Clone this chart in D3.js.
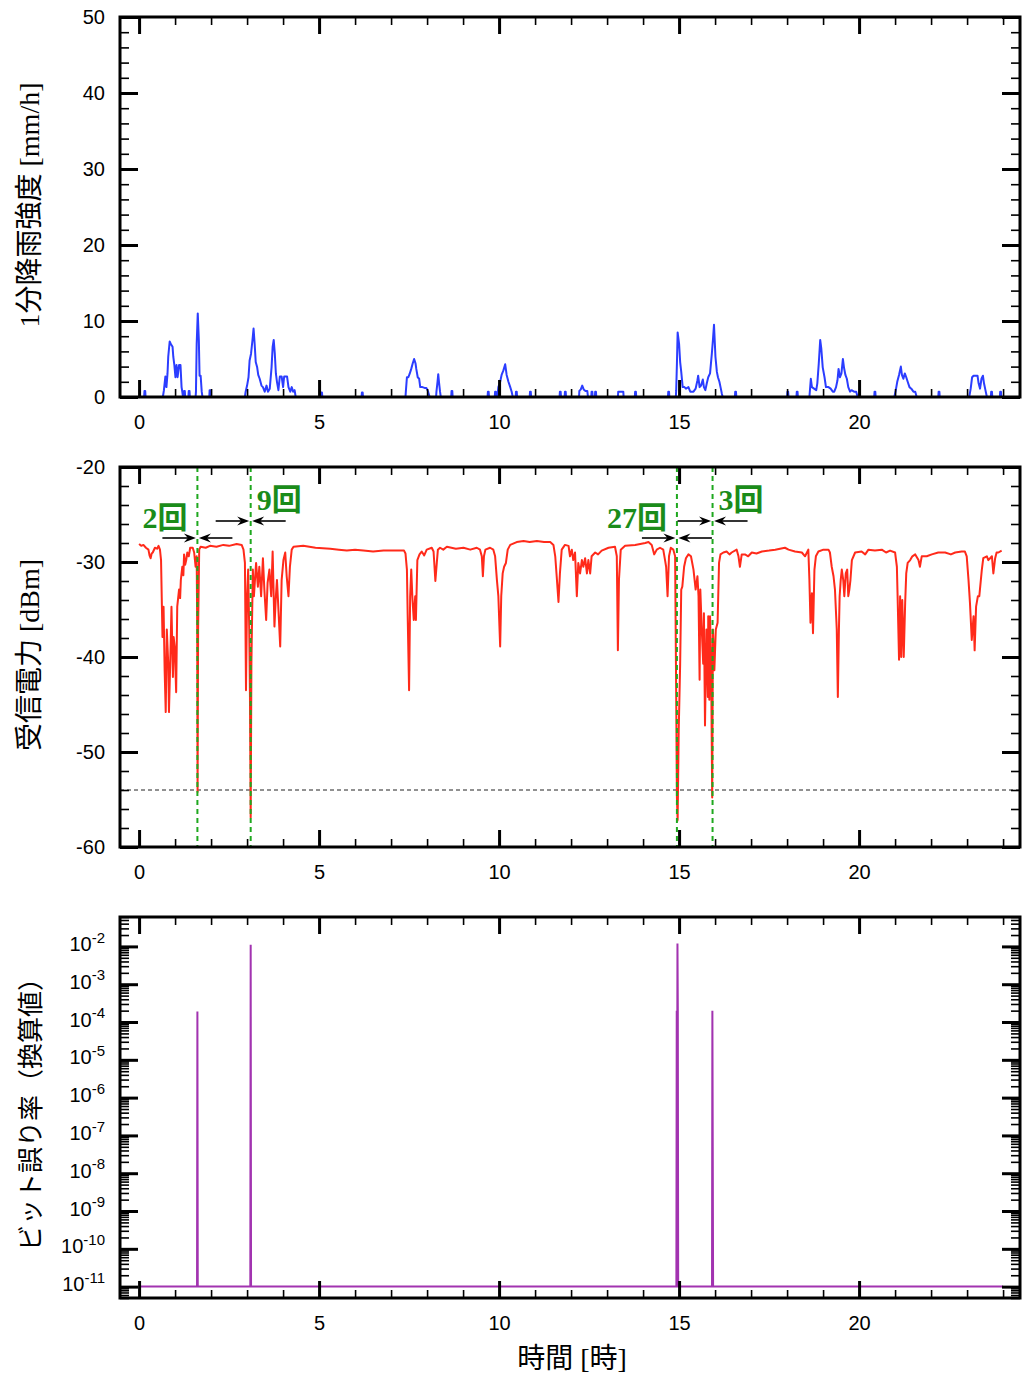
<!DOCTYPE html>
<html>
<head>
<meta charset="utf-8">
<script src="https://cdn.jsdelivr.net/npm/d3@7"></script>
<style>
  html, body { margin: 0; padding: 0; background: #fff; }
  svg { display: block; }
</style>
</head>
<body>
<svg id="chart" width="1022" height="1381"></svg>
<script>
// ---------------- data ----------------
// time axis (hours of the day)
const hourMajor = [0, 5, 10, 15, 20];
const hourMinor = [0,1,2,3,4,5,6,7,8,9,10,11,12,13,14,15,16,17,18,19,20,21,22,23,24];

// 1-minute rain rate [mm/h]
const rainTicks = [0, 10, 20, 30, 40, 50];
const rainMinor = [0,2,4,6,8,10,12,14,16,18,20,22,24,26,28,30,32,34,36,38,40,42,44,46,48,50];
const rainSeries = [
  [0,0],
  [0.14,0],[0.15,0.8],[0.17,0.8],[0.18,0],
  [0.66,0],[0.67,0.3],[0.69,0.9],[0.73,2.7],[0.76,1.3],[0.79,3.1],[0.81,5.3],[0.85,7.3],[0.89,6.9],[0.93,6.6],[0.95,5.3],[0.98,4.2],[1.01,2.6],[1.04,4.2],[1.07,2.6],[1.11,4.2],[1.15,4.2],[1.18,1.3],[1.20,0.7],[1.22,0],
  [1.24,0],[1.25,0.8],[1.27,0.8],[1.28,0],
  [1.37,0],[1.38,0.8],[1.40,0.8],[1.41,0],
  [1.57,0],[1.58,0.7],[1.60,7.0],[1.63,11.0],[1.66,7.5],[1.68,2.8],[1.71,2.8],[1.74,0.7],[1.76,0],
  [1.95,0],[1.96,0.9],[1.98,0.9],[1.99,0],
  [2.94,0],[2.96,0.7],[3.00,1.5],[3.04,2.6],[3.07,4.8],[3.11,5.7],[3.15,7.5],[3.18,9.0],[3.21,7.0],[3.24,4.6],[3.28,3.9],[3.31,2.9],[3.35,2.4],[3.40,1.5],[3.44,1.3],[3.49,0.7],[3.54,1.5],[3.58,0.7],[3.63,1.1],[3.68,3.9],[3.71,6.6],[3.74,7.5],[3.77,5.7],[3.80,3.1],[3.83,2.0],[3.87,0.9],[3.91,2.7],[3.96,2.7],[4.00,1.3],[4.03,2.7],[4.11,2.7],[4.15,1.3],[4.20,0.7],[4.24,1.3],[4.28,0.7],[4.32,0.9],[4.35,0],
  [5.05,0],[5.06,0.6],[5.08,0.6],[5.09,0],
  [6.18,0],[6.19,0.6],[6.21,0.6],[6.22,0],
  [7.40,0],[7.41,0.7],[7.44,2.6],[7.48,2.6],[7.52,3.1],[7.56,3.7],[7.60,4.4],[7.64,5.0],[7.68,4.4],[7.70,3.7],[7.74,2.6],[7.78,2.4],[7.81,1.3],[7.87,1.3],[7.93,1.2],[7.98,1.2],[8.03,0.7],[8.07,0],
  [8.25,0],[8.26,0.7],[8.29,2.0],[8.31,3.0],[8.33,2.0],[8.36,0.7],[8.38,0],
  [8.67,0],[8.68,0.8],[8.70,0.8],[8.71,0],
  [9.68,0],[9.69,0.7],[9.71,0.7],[9.72,0],
  [9.88,0],[9.89,0.7],[9.91,0.7],[9.92,0],
  [9.95,0],[9.98,1.3],[10.03,2.0],[10.07,2.9],[10.12,3.5],[10.17,4.3],[10.21,2.9],[10.26,2.0],[10.31,1.3],[10.35,0.7],[10.38,0],
  [10.46,0],[10.47,0.7],[10.49,0.7],[10.50,0],
  [10.85,0],[10.86,0.7],[10.88,0.7],[10.89,0],
  [11.68,0],[11.69,0.7],[11.71,0.7],[11.72,0],
  [11.82,0],[11.83,0.7],[11.85,0.7],[11.86,0],
  [12.22,0],[12.23,0.8],[12.27,1.0],[12.31,1.5],[12.35,1.0],[12.40,0.8],[12.45,0.8],[12.47,0],
  [12.56,0],[12.57,0.7],[12.59,0.7],[12.60,0],
  [12.66,0],[12.67,0.7],[12.69,0.7],[12.70,0],
  [13.30,0],[13.31,0.7],[13.45,0.7],[13.46,0],
  [13.77,0],[13.78,0.7],[13.80,0.7],[13.81,0],
  [14.69,0],[14.70,0.7],[14.72,0.7],[14.73,0],
  [14.91,0],[14.92,0.9],[14.94,4.4],[14.96,8.5],[15.00,7.0],[15.03,4.6],[15.06,3.3],[15.10,1.3],[15.15,1.3],[15.19,1.1],[15.26,1.3],[15.31,0.7],[15.40,0.7],[15.46,1.1],[15.51,2.2],[15.53,2.8],[15.57,1.3],[15.61,1.5],[15.66,2.3],[15.69,1.3],[15.73,0.9],[15.77,1.8],[15.81,2.6],[15.86,3.1],[15.91,5.7],[15.94,7.5],[15.97,9.5],[16.01,5.3],[16.05,3.3],[16.08,2.6],[16.12,2.0],[16.16,1.1],[16.19,0.4],[16.21,0],
  [16.55,0],[16.56,0.7],[16.58,0.7],[16.59,0],
  [18.00,0],[18.01,0.7],[18.03,0.7],[18.04,0],
  [18.26,0],[18.27,0.7],[18.29,0.7],[18.30,0],
  [18.62,0],[18.66,2.4],[18.69,1.3],[18.75,1.1],[18.81,0.9],[18.84,1.8],[18.88,4.4],[18.92,7.5],[18.95,6.4],[18.99,3.9],[19.04,2.6],[19.08,1.3],[19.15,1.3],[19.21,1.1],[19.27,0.7],[19.31,0.7],[19.36,1.3],[19.40,2.2],[19.43,3.7],[19.47,2.6],[19.51,3.1],[19.55,5.0],[19.58,3.9],[19.62,2.9],[19.66,2.4],[19.70,1.3],[19.75,0.7],[19.79,0.9],[19.86,0.7],[19.92,0.7],[19.96,0],
  [20.42,0],[20.43,0.7],[20.45,0.7],[20.46,0],
  [20.98,0],[21.02,0.9],[21.06,2.0],[21.11,2.9],[21.16,4.0],[21.19,2.9],[21.23,2.4],[21.27,3.1],[21.31,2.6],[21.35,2.0],[21.40,1.3],[21.45,1.1],[21.51,0.7],[21.56,0.7],[21.60,0],
  [22.20,0],[22.21,0.7],[22.23,0.7],[22.24,0],
  [23.06,0],[23.10,1.1],[23.14,2.6],[23.18,2.8],[23.29,2.8],[23.32,1.8],[23.36,1.1],[23.40,2.4],[23.44,2.8],[23.47,1.8],[23.51,0.9],[23.55,0],
  [23.66,0],[23.67,0.7],[23.69,0.7],[23.70,0],
  [23.91,0],[23.92,0.7],[23.94,0.7],[23.95,0],
  [24,0]
];

// received power [dBm]
const powerTicks = [-60, -50, -40, -30, -20];
const powerMinor = [-60,-58,-56,-54,-52,-50,-48,-46,-44,-42,-40,-38,-36,-34,-32,-30,-28,-26,-24,-22,-20];
const powerThreshold = -54;
const powerSeries = [
  [0.00,-28.1],[0.06,-28.3],[0.12,-28.2],[0.19,-28.5],[0.26,-28.7],[0.29,-29.3],[0.32,-29.6],[0.35,-29.1],[0.38,-29.0],[0.44,-28.5],[0.50,-28.6],[0.54,-28.3],[0.58,-28.7],[0.61,-29.8],
  [0.65,-37.9],[0.68,-34.7],[0.71,-41.4],[0.74,-45.8],[0.77,-37.1],[0.81,-40.7],[0.83,-45.8],[0.86,-41.4],[0.90,-34.7],[0.94,-42.1],[0.96,-37.9],[0.99,-38.9],[1.03,-43.7],[1.06,-34.7],[1.11,-32.9],[1.14,-33.8],[1.16,-31.9],[1.20,-30.5],[1.23,-31.4],[1.25,-29.2],[1.28,-30.3],[1.31,-29.8],[1.34,-29.0],[1.38,-29.4],[1.42,-28.5],[1.49,-28.5],[1.53,-29.0],[1.57,-30.5],[1.60,-29.4],
  [1.615,-37.1],[1.625,-54.2],[1.64,-37.1],[1.67,-28.7],[1.71,-28.4],[1.85,-28.5],[1.97,-28.3],[2.15,-28.4],[2.34,-28.2],[2.50,-28.3],[2.71,-28.1],[2.85,-28.2],[2.90,-28.7],[2.94,-30.1],
  [2.97,-43.5],[3.00,-33.6],[3.03,-30.8],[3.06,-37.1],[3.08,-44.2],[3.10,-56.9],[3.12,-40.7],[3.16,-30.8],[3.19,-33.6],[3.25,-30.1],[3.30,-32.6],[3.34,-30.5],[3.39,-33.6],[3.44,-29.6],[3.48,-32.9],[3.53,-36.1],[3.57,-32.2],[3.62,-30.8],[3.67,-33.6],[3.71,-28.9],[3.76,-36.8],[3.80,-33.6],[3.83,-31.9],[3.88,-35.7],[3.92,-38.9],[3.96,-31.9],[4.01,-29.8],[4.06,-29.0],[4.10,-31.5],[4.15,-33.6],[4.19,-30.5],[4.24,-28.7],[4.29,-28.4],
  [4.56,-28.3],[4.90,-28.5],[5.31,-28.6],[5.55,-28.7],[5.77,-28.8],[6.00,-28.7],[6.23,-28.8],[6.50,-28.9],[6.79,-28.8],[7.16,-28.8],[7.36,-28.8],[7.40,-29.1],
  [7.44,-30.8],[7.46,-35.4],[7.50,-43.5],[7.53,-33.6],[7.56,-30.8],[7.59,-33.6],[7.63,-36.1],[7.67,-33.6],[7.69,-36.1],[7.73,-29.8],[7.79,-29.2],[7.85,-28.9],[7.92,-29.3],[7.99,-28.7],[8.13,-28.5],[8.18,-28.9],[8.20,-30.1],[8.23,-32.0],[8.27,-30.1],[8.30,-28.7],[8.36,-28.5],[8.45,-28.7],[8.55,-28.4],
  [8.80,-28.6],[9.01,-28.5],[9.20,-28.7],[9.38,-28.5],[9.47,-28.7],[9.52,-29.4],[9.55,-31.5],[9.58,-29.4],[9.62,-28.7],[9.75,-28.5],[9.84,-28.7],[9.89,-29.4],[9.94,-31.9],[9.98,-33.6],[10.03,-38.9],[10.06,-33.6],[10.10,-31.2],[10.14,-30.5],[10.19,-30.1],[10.24,-28.7],[10.31,-28.2],[10.49,-27.9],[10.68,-27.8],[10.85,-27.9],[11.05,-27.8],[11.25,-27.9],[11.42,-27.9],[11.51,-28.2],
  [11.56,-29.4],[11.60,-31.5],[11.65,-34.2],[11.69,-31.2],[11.74,-28.7],[11.83,-28.2],[11.93,-28.3],[11.97,-29.4],[12.02,-28.7],[12.06,-29.8],
  [12.11,-29.0],[12.16,-33.6],[12.20,-30.1],[12.25,-31.2],[12.30,-29.8],[12.34,-30.5],[12.39,-29.6],[12.44,-31.2],[12.48,-29.8],[12.53,-31.2],[12.57,-29.4],[12.67,-29.0],[12.75,-29.2],[12.85,-28.8],[13.04,-28.5],[13.22,-28.4],
  [13.27,-29.4],[13.30,-39.3],[13.33,-31.9],[13.38,-28.7],[13.50,-28.3],[13.78,-28.2],[14.06,-28.0],[14.15,-27.9],[14.24,-28.2],[14.31,-29.2],[14.38,-28.7],[14.47,-28.5],[14.56,-28.7],[14.61,-29.8],[14.64,-30.5],[14.68,-33.6],[14.72,-29.4],[14.77,-28.5],[14.84,-28.7],[14.89,-29.4],
  [14.92,-44.2],[14.94,-54.8],[14.96,-57.2],[14.99,-47.7],[15.03,-40.7],[15.06,-32.9],[15.09,-32.6],[15.14,-30.5],[15.19,-29.6],[15.26,-29.2],[15.33,-29.4],[15.40,-30.8],[15.46,-32.9],[15.51,-31.5],[15.54,-33.6],[15.57,-42.4],[15.59,-32.9],[15.63,-37.1],[15.67,-40.7],[15.69,-35.4],[15.72,-47.2],[15.76,-37.1],[15.80,-44.2],[15.81,-35.7],[15.84,-44.5],[15.86,-35.7],[15.89,-40.7],[15.92,-54.8],[15.94,-37.1],[15.98,-41.4],[16.02,-37.1],[16.07,-36.4],[16.11,-30.1],[16.15,-29.2],
  [16.23,-29.0],[16.32,-28.9],[16.40,-29.2],[16.46,-29.0],[16.60,-28.7],[16.65,-29.4],[16.69,-30.5],[16.74,-29.2],[16.83,-29.2],[16.92,-29.4],[17.02,-29.0],[17.15,-29.1],[17.30,-28.9],[17.50,-28.8],[17.67,-28.7],[17.94,-28.5],[18.04,-28.7],[18.22,-28.9],[18.41,-29.0],[18.50,-29.4],[18.59,-28.7],
  [18.62,-31.9],[18.65,-36.4],[18.69,-33.3],[18.72,-37.5],[18.76,-30.8],[18.80,-29.4],[18.87,-28.9],[19.01,-28.7],[19.15,-28.7],[19.19,-29.0],[19.24,-30.5],[19.29,-31.5],[19.33,-32.9],[19.38,-37.1],[19.41,-44.2],[19.44,-37.1],[19.46,-33.6],[19.49,-31.9],[19.52,-30.8],[19.56,-31.9],[19.59,-33.6],[19.63,-31.2],[19.67,-30.8],[19.70,-33.6],[19.73,-32.9],[19.76,-31.9],[19.80,-29.8],[19.89,-29.0],
  [20.07,-28.9],[20.17,-29.2],[20.26,-28.7],[20.44,-28.8],[20.63,-28.7],[20.75,-29.0],[20.86,-28.8],[21.00,-29.0],[21.05,-30.5],[21.07,-33.6],[21.11,-40.3],[21.14,-33.6],[21.17,-40.0],[21.20,-34.0],[21.24,-40.0],[21.28,-34.3],[21.31,-31.2],[21.35,-30.1],[21.42,-29.8],[21.48,-29.4],[21.56,-29.2],[21.65,-29.8],[21.69,-30.5],[21.74,-29.4],[21.88,-29.4],[22.02,-29.2],[22.20,-29.0],[22.39,-29.0],[22.55,-29.2],[22.67,-29.0],[22.85,-28.9],[22.94,-28.9],
  [22.99,-29.4],[23.04,-31.9],[23.08,-34.3],[23.13,-38.2],[23.18,-35.7],[23.21,-39.3],[23.25,-34.7],[23.30,-33.6],[23.34,-33.6],[23.41,-30.8],[23.45,-29.6],[23.55,-29.4],[23.59,-29.8],[23.64,-29.6],[23.69,-29.4],[23.73,-31.2],[23.78,-29.6],[23.82,-29.0],[23.87,-29.0],[23.96,-28.8]
];

// bit error rate (converted value)
const berTicks = [1e-11, 1e-10, 1e-9, 1e-8, 1e-7, 1e-6, 1e-5, 1e-4, 1e-3, 1e-2];
const berSeries = [
  [0,1e-11],
  [1.61,1e-11],[1.62,1.9e-4],[1.63,1e-11],
  [3.09,1e-11],[3.10,1.1e-2],[3.11,1e-11],
  [14.925,1e-11],[14.935,2e-4],[14.945,4e-8],[14.955,1.2e-2],[14.965,2e-4],[14.975,1e-11],
  [15.915,1e-11],[15.925,2e-4],[15.935,5e-8],[15.945,1e-11],
  [24,1e-11]
];

// outage events: time [h] and number of errored occurrences
const eventHours = [1.62, 3.10, 14.94, 15.93];
const eventCounts = [2, 9, 27, 3];

// ---------------- layout ----------------
const W = 1022, H = 1381;
const left = 120, right = 1020;
const panels = [
  { top: 17,  bottom: 397 },
  { top: 467, bottom: 847 },
  { top: 917, bottom: 1298 }
];
const MAJ = 17, MIN = 8;
const tickFont = '"Liberation Sans", Arial, sans-serif';
const titleFont = '"Liberation Serif", "Noto Sans CJK JP", serif';

const svg = d3.select("#chart");
svg.append("rect").attr("width", W).attr("height", H).attr("fill", "#fff");

const x = d3.scaleLinear().domain([-0.53, 24.47]).range([left, right]);

const yRain = d3.scaleLinear().domain([0, 50]).range([panels[0].bottom, panels[0].top]);
const yPow  = d3.scaleLinear().domain([-60, -20]).range([panels[1].bottom, panels[1].top]);
const yBer  = d3.scaleLog().domain([5e-12, 6e-2]).range([panels[2].bottom, panels[2].top]);

const defs = svg.append("defs");
panels.forEach((p, i) => {
  defs.append("clipPath").attr("id", "clip" + i)
    .append("rect").attr("x", left).attr("y", p.top)
    .attr("width", right - left).attr("height", p.bottom - p.top);
});

const plain = d => String(d);

function styleAxis(g, width, withText) {
  g.select(".domain").remove();
  g.selectAll(".tick line").attr("stroke", "#000").attr("stroke-width", width);
  g.attr("font-family", tickFont).attr("font-size", 20);
  g.selectAll(".tick text").attr("fill", "#000");
  if (!withText) g.selectAll(".tick text").remove();
}

function drawAxes(p, y, yMajor, yMinor, yFormat) {
  // time ticks, bottom (labelled) and top
  svg.append("g").attr("transform", `translate(0,${p.bottom})`)
    .call(d3.axisBottom(x).tickValues(hourMinor).tickSize(-MIN).tickSizeOuter(0).tickFormat(""))
    .call(g => styleAxis(g, 1.6, false));
  svg.append("g").attr("transform", `translate(0,${p.bottom})`)
    .call(d3.axisBottom(x).tickValues(hourMajor).tickSize(-MAJ).tickSizeOuter(0).tickPadding(18).tickFormat(plain))
    .call(g => styleAxis(g, 3, true));
  svg.append("g").attr("transform", `translate(0,${p.top})`)
    .call(d3.axisTop(x).tickValues(hourMinor).tickSize(-MIN).tickSizeOuter(0).tickFormat(""))
    .call(g => styleAxis(g, 1.6, false));
  svg.append("g").attr("transform", `translate(0,${p.top})`)
    .call(d3.axisTop(x).tickValues(hourMajor).tickSize(-MAJ).tickSizeOuter(0).tickFormat(""))
    .call(g => styleAxis(g, 3, false));
  // value ticks, left (labelled) and right
  svg.append("g").attr("transform", `translate(${left},0)`)
    .call(d3.axisLeft(y).tickValues(yMinor).tickSize(-MIN - 1).tickSizeOuter(0).tickFormat(""))
    .call(g => styleAxis(g, 1.6, false));
  const lab = svg.append("g").attr("transform", `translate(${left},0)`)
    .call(d3.axisLeft(y).tickValues(yMajor).tickSize(-MAJ - 1).tickSizeOuter(0).tickPadding(15).tickFormat(yFormat))
    .call(g => styleAxis(g, 3, true));
  svg.append("g").attr("transform", `translate(${right},0)`)
    .call(d3.axisRight(y).tickValues(yMinor).tickSize(-MIN - 1).tickSizeOuter(0).tickFormat(""))
    .call(g => styleAxis(g, 1.6, false));
  svg.append("g").attr("transform", `translate(${right},0)`)
    .call(d3.axisRight(y).tickValues(yMajor).tickSize(-MAJ - 1).tickSizeOuter(0).tickFormat(""))
    .call(g => styleAxis(g, 3, false));
  // frame
  svg.append("rect").attr("x", left).attr("y", p.top)
    .attr("width", right - left).attr("height", p.bottom - p.top)
    .attr("fill", "none").attr("stroke", "#000").attr("stroke-width", 3);
  return lab;
}

// ---------------- panel 1: rain rate ----------------
svg.append("path").datum(rainSeries)
  .attr("clip-path", "url(#clip0)")
  .attr("fill", "none").attr("stroke", "#2b3dff").attr("stroke-width", 2)
  .attr("stroke-linejoin", "round")
  .attr("d", d3.line().x(d => x(d[0])).y(d => yRain(d[1])));
drawAxes(panels[0], yRain, rainTicks, rainMinor, plain);

// ---------------- panel 2: received power ----------------
svg.append("line")
  .attr("x1", left).attr("x2", right)
  .attr("y1", yPow(powerThreshold)).attr("y2", yPow(powerThreshold))
  .attr("stroke", "#222").attr("stroke-width", 1).attr("stroke-dasharray", "4,3");
svg.append("path").datum(powerSeries)
  .attr("clip-path", "url(#clip1)")
  .attr("fill", "none").attr("stroke", "#ff2a1a").attr("stroke-width", 2)
  .attr("stroke-linejoin", "round")
  .attr("d", d3.line().x(d => x(d[0])).y(d => yPow(d[1])));
// event markers
svg.append("g").selectAll("line").data(eventHours).join("line")
  .attr("x1", d => x(d)).attr("x2", d => x(d))
  .attr("y1", panels[1].top).attr("y2", panels[1].bottom)
  .attr("stroke", "#1fa81f").attr("stroke-width", 2).attr("stroke-dasharray", "5,4");

// paired arrows pointing at each event, with the count label
const arrowLen = 35;
const annot = svg.append("g");
function arrow(x0, x1, yy) {
  const dir = x1 > x0 ? 1 : -1;
  annot.append("line").attr("x1", x0).attr("x2", x1 - dir * 6).attr("y1", yy).attr("y2", yy)
    .attr("stroke", "#000").attr("stroke-width", 1.6);
  annot.append("path")
    .attr("d", `M${x1},${yy} L${x1 - dir * 12},${yy - 4.5} L${x1 - dir * 8},${yy} L${x1 - dir * 12},${yy + 4.5} Z`)
    .attr("fill", "#000");
}
eventHours.forEach((t, i) => {
  const cx = x(t);
  const low = i % 2 === 0;                    // alternate heights
  const yy = low ? 538 : 521;
  arrow(cx - arrowLen, cx - 1.5, yy);
  arrow(cx + arrowLen, cx + 1.5, yy);
  annot.append("text")
    .attr("x", low ? cx - 10 : cx + 6)
    .attr("y", low ? 528 : 510)
    .attr("text-anchor", low ? "end" : "start")
    .attr("font-family", titleFont).attr("font-weight", "bold")
    .attr("font-size", 30).attr("fill", "#1a8c1a")
    .text(eventCounts[i] + "回");
});
drawAxes(panels[1], yPow, powerTicks, powerMinor, plain);

// ---------------- panel 3: bit error rate ----------------
svg.append("path").datum(berSeries)
  .attr("clip-path", "url(#clip2)")
  .attr("fill", "none").attr("stroke", "#a233b0").attr("stroke-width", 2)
  .attr("d", d3.line().x(d => x(d[0])).y(d => yBer(d[1])));
const berMinor = [];
for (let e = -12; e <= -2; e++) {
  for (let k = 2; k <= 9; k++) {
    const v = k * Math.pow(10, e);
    if (v >= 5e-12 && v <= 6e-2) berMinor.push(v);
  }
}
const berLab = drawAxes(panels[2], yBer, berTicks, berMinor, d => d);
berLab.selectAll(".tick text").each(function(d) {
  const t = d3.select(this);
  const exp = Math.round(Math.log10(d));
  t.text(null);
  t.append("tspan").attr("dy", "0.2em").text("10");
  t.append("tspan").attr("dy", "-0.55em").attr("font-size", 15).text(String(exp));
});

// ---------------- titles ----------------
function vTitle(txt, cx, cy, font, size) {
  svg.append("text")
    .attr("transform", `translate(${cx},${cy}) rotate(-90)`)
    .attr("text-anchor", "middle")
    .attr("font-family", font).attr("font-size", size).attr("fill", "#000")
    .text(txt);
}
vTitle("1分降雨強度 [mm/h]", 39, 205, titleFont, 28);
vTitle("受信電力 [dBm]", 39, 655, titleFont, 28);
vTitle("ビット誤り率（換算値）", 40, 1108, '"Noto Sans CJK JP", sans-serif', 26);

svg.append("text")
  .attr("x", (left + right) / 2 + 2).attr("y", 1368)
  .attr("text-anchor", "middle")
  .attr("font-family", titleFont).attr("font-size", 28).attr("fill", "#000")
  .text("時間 [時]");
</script>
</body>
</html>
